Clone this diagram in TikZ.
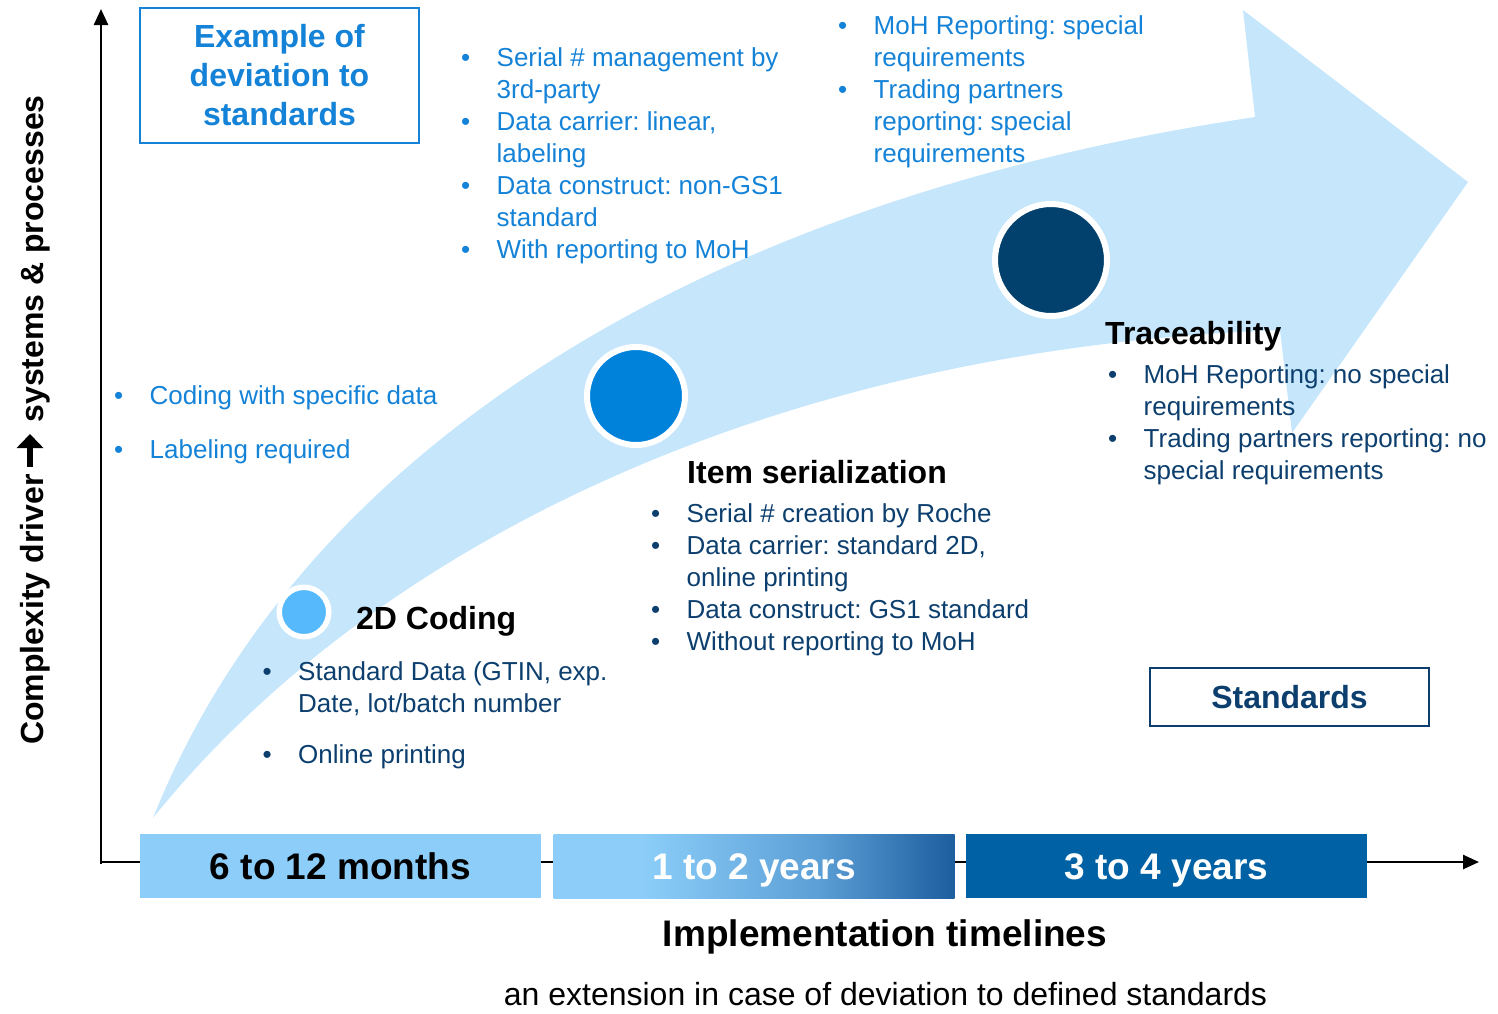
\documentclass[tikz,border=0pt]{standalone}
\usepackage{fontspec}
\setmainfont{Liberation Sans}
\usetikzlibrary{arrows.meta}
\frenchspacing

\definecolor{arrowfill}{HTML}{C6E6FC}
\definecolor{devblue}{HTML}{1482D7}
\definecolor{stdblue}{HTML}{0D3F6E}
\definecolor{barlight}{HTML}{8CCEF9}
\definecolor{barmid}{HTML}{5C9FD6}
\definecolor{bardark}{HTML}{1C5E9F}
\definecolor{barfull}{HTML}{0062A4}
\definecolor{dotsmall}{HTML}{55B9FB}
\definecolor{dotmid}{HTML}{0082DA}
\definecolor{dotbig}{HTML}{02416E}

\pgfdeclarehorizontalshading{midbar}{100bp}{color(0bp)=(barlight); color(25bp)=(barlight); color(36bp)=(barlight); color(58bp)=(barmid); color(75bp)=(bardark); color(100bp)=(bardark)}

\newcommand{\itm}{\textbullet &}

\tikzset{
	axis/.style={line width=2.5pt,-{Triangle[length=16pt,width=14pt]}},
	yname/.style={rotate=90,inner sep=0pt,font=\fontsize{32}{38}\selectfont\bfseries},
	bar/.style={minimum width=401pt,minimum height=64pt,inner sep=0pt,text height=26.5pt,text depth=0pt,font=\fontsize{37}{44}\selectfont\bfseries},
	stage/.style={circle,draw=white,line width=6pt,inner sep=0pt},
	head/.style={inner sep=0pt,anchor=base west,font=\fontsize{32}{38}\selectfont\bfseries},
	items/.style={inner sep=0pt,anchor=base west,font=\fontsize{26}{32}\selectfont},
	frame/.style={draw,line width=2pt,inner sep=0pt,align=center,font=\fontsize{32}{39}\selectfont\bfseries},
}

\begin{document}
\begin{tikzpicture}[x=1pt,y=-1pt]
			\useasboundingbox (0,0) rectangle (1498,1013);
			% big curved arrow
			\fill[arrowfill] (153,818) .. controls (300,450) and (700,200) .. (1255,117) -- (1243,10) -- (1468,182) -- (1292,433) -- (1280,330) .. controls (750,350) and (360,560) .. (153,818) -- cycle;
			% axes
			\coordinate (origin) at (101,864);
			\coordinate (ytop) at (101,9);
			\coordinate (xend) at (1479,862);
			\draw[axis](origin)--(ytop);
			\draw[axis](101,862)--(xend);
			\node[yname,anchor=base west](driver) at (43,745){Complexity driver};
			\node[yname,anchor=base east](systems) at (43,95){systems \& processes};
			\coordinate (upfrom) at (30,467);
			\coordinate (upto) at (30,434);
			\draw[line width=6pt,-{Triangle[length=14pt,width=26pt]}](upfrom)--(upto);
			% timeline bars
			\node[bar,fill=barlight,text=black](months) at (340.5,866){6 to 12 months};
			\node[bar,shade,shading=midbar,text=white](oneyear) at (754,866){1 to 2 years};
			\node[bar,fill=barfull,text=white](threeyear) at (1166.5,866){3 to 4 years};
			\node[anchor=base,inner sep=0pt,font=\fontsize{37}{44}\selectfont\bfseries](timelines) at (885,946){Implementation timelines};
			\node[anchor=base,inner sep=0pt,font=\fontsize{32}{38}\selectfont](extension) at (885.5,1005){an extension in case of deviation to defined standards};
			% stages
			\node[stage,fill=dotsmall,line width=5.5pt,minimum size=49.5pt](coding) at (304,612){};
			\node[stage,fill=dotmid,minimum size=98pt](serial) at (636,396){};
			\node[stage,fill=dotbig,minimum size=112pt](trace) at (1051,260){};
			% boxes
			\node[frame,draw=devblue,text=devblue,minimum width=279pt,minimum height=135pt](deviation) at (279.5,75.5){Example of\\deviation to\\standards};
			\node[frame,draw=stdblue,text=stdblue,minimum width=279pt,minimum height=58pt](standards) at (1289.5,697){Standards};
			% deviation lists
			\node[items,text=devblue](codingdev) at (114,404){\begin{tabular}[t]{@{}p{35.5pt}@{}l@{}}
				\itm Coding with specific data\\[22pt]
				\itm Labeling required
			\end{tabular}};
			\node[items,text=devblue](serialdev) at (461,66){\begin{tabular}[t]{@{}p{35.5pt}@{}l@{}}
				\itm Serial \# management by\\
				& 3rd-party\\
				\itm Data carrier: linear,\\
				& labeling\\
				\itm Data construct: non-GS1\\
				& standard\\
				\itm With reporting to MoH
			\end{tabular}};
			\node[items,text=devblue](tracedev) at (838,34){\begin{tabular}[t]{@{}p{35.5pt}@{}l@{}}
				\itm MoH Reporting: special\\
				& requirements\\
				\itm Trading partners\\
				& reporting: special\\
				& requirements
			\end{tabular}};
			% standard lists
			\node[head](codinghead) at (356,629){2D Coding};
			\node[items,text=stdblue](codingstd) at (262.5,680){\begin{tabular}[t]{@{}p{35.5pt}@{}l@{}}
				\itm Standard Data (GTIN, exp.\\
				& Date, lot/batch number\\[19pt]
				\itm Online printing
			\end{tabular}};
			\node[head](serialhead) at (687,483){Item serialization};
			\node[items,text=stdblue](serialstd) at (651,522){\begin{tabular}[t]{@{}p{35.5pt}@{}l@{}}
				\itm Serial \# creation by Roche\\
				\itm Data carrier: standard 2D,\\
				& online printing\\
				\itm Data construct: GS1 standard\\
				\itm Without reporting to MoH
			\end{tabular}};
			\node[head](tracehead) at (1105,344){Traceability};
			\node[items,text=stdblue](tracestd) at (1108,383){\begin{tabular}[t]{@{}p{35.5pt}@{}l@{}}
				\itm MoH Reporting: no special\\
				& requirements\\
				\itm Trading partners reporting: no\\
				& special requirements
			\end{tabular}};
		\end{tikzpicture}
\end{document}
